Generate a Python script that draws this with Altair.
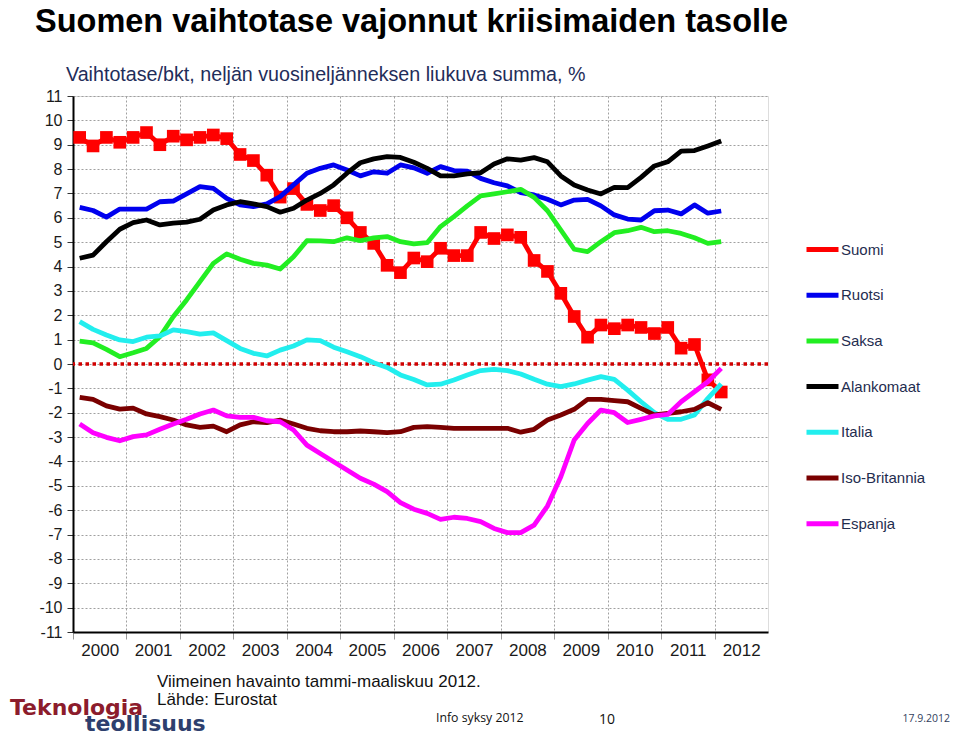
import altair as alt
import pandas as pd

# ---- data (quarterly, 4-quarter rolling sum of current account / GDP, %) ----
years = list(range(2000, 2013))
quarters = [f"{y}Q{q}" for y in range(2000, 2013) for q in (1, 2, 3, 4)][:49]

series_names = ["Suomi", "Ruotsi", "Saksa", "Alankomaat", "Italia", "Iso-Britannia", "Espanja"]
series_colors = ["#FF0000", "#0000EE", "#22EE22", "#000000", "#22EEEE", "#7A0000", "#FF00FF"]

suomi = [9.3, 8.95, 9.3, 9.1, 9.3, 9.5, 9.0, 9.35, 9.2, 9.3, 9.4, 9.25, 8.6, 8.35, 7.75,
         6.85, 7.2, 6.55, 6.3, 6.5, 6.0, 5.4, 4.95, 4.05, 3.75, 4.35, 4.2, 4.75, 4.45, 4.45,
         5.4, 5.15, 5.3, 5.2, 4.25, 3.8, 2.9, 1.95, 1.1, 1.6, 1.45, 1.6, 1.5, 1.25, 1.5,
         0.65, 0.8, -0.65, -1.15]
ruotsi = [6.43, 6.3, 6.03, 6.36, 6.36, 6.36, 6.66, 6.69, 6.98, 7.28, 7.21, 6.8, 6.53, 6.46, 6.57,
          6.87, 7.35, 7.83, 8.03, 8.17, 7.96, 7.72, 7.89, 7.83, 8.17, 8.05, 7.83, 8.1, 7.94, 7.92,
          7.62, 7.44, 7.31, 7.03, 6.94, 6.76, 6.53, 6.73, 6.76, 6.49, 6.12, 5.95, 5.91, 6.29, 6.32,
          6.16, 6.53, 6.19, 6.28]
saksa = [0.94, 0.87, 0.60, 0.30, 0.46, 0.64, 1.12, 1.94, 2.63, 3.38, 4.13, 4.52, 4.3, 4.13, 4.06,
         3.9, 4.4, 5.06, 5.05, 5.02, 5.18, 5.06, 5.18, 5.23, 5.02, 4.93, 4.98, 5.64, 6.05, 6.49,
         6.9, 6.98, 7.07, 7.17, 6.84, 6.29, 5.5, 4.71, 4.61, 5.02, 5.39, 5.47, 5.61, 5.43, 5.47,
         5.36, 5.18, 4.95, 5.02]
alankomaat = [4.34, 4.47, 5.02, 5.53, 5.80, 5.91, 5.71, 5.78, 5.82, 5.94, 6.32, 6.53, 6.66, 6.57, 6.46,
              6.23, 6.39, 6.73, 7.0, 7.35, 7.83, 8.26, 8.42, 8.51, 8.48, 8.28, 8.03, 7.72, 7.72, 7.80,
              7.85, 8.21, 8.42, 8.37, 8.47, 8.3, 7.72, 7.35, 7.14, 6.98, 7.25, 7.24, 7.66, 8.13, 8.3,
              8.74, 8.76, 8.95, 9.15]
italia = [1.74, 1.42, 1.19, 0.99, 0.92, 1.1, 1.15, 1.40, 1.33, 1.23, 1.28, 0.96, 0.64, 0.44, 0.33,
          0.57, 0.74, 0.99, 0.96, 0.69, 0.50, 0.30, 0.05, -0.14, -0.45, -0.64, -0.86, -0.83, -0.66, -0.45,
          -0.27, -0.22, -0.27, -0.41, -0.63, -0.83, -0.93, -0.82, -0.66, -0.52, -0.63, -1.07, -1.55, -2.0, -2.27,
          -2.27, -2.09, -1.41, -0.82]
iso_britannia = [-1.37, -1.45, -1.72, -1.85, -1.81, -2.05, -2.16, -2.3, -2.5, -2.6, -2.55, -2.78, -2.5, -2.37, -2.41,
                 -2.3, -2.46, -2.64, -2.74, -2.78, -2.78, -2.75, -2.78, -2.82, -2.78, -2.6, -2.57, -2.6, -2.64, -2.64,
                 -2.64, -2.64, -2.64, -2.8, -2.68, -2.3, -2.09, -1.86, -1.45, -1.45, -1.5, -1.55, -1.82, -2.09, -2.03,
                 -1.96, -1.86, -1.59, -1.86]
espanja = [-2.46, -2.82, -3.01, -3.15, -2.98, -2.91, -2.68, -2.46, -2.27, -2.05, -1.89, -2.13, -2.19, -2.19, -2.33,
           -2.37, -2.71, -3.33, -3.67, -4.01, -4.35, -4.69, -4.93, -5.24, -5.69, -5.96, -6.13, -6.38, -6.29, -6.34,
           -6.47, -6.75, -6.92, -6.92, -6.61, -5.83, -4.63, -3.12, -2.44, -1.89, -2.0, -2.4, -2.27, -2.13, -2.07,
           -1.55, -1.14, -0.73, -0.18]

y_ticks = list(range(-11, 12))

# ---- long table ----
all_values = [suomi, ruotsi, saksa, alankomaat, italia, iso_britannia, espanja]
rows = []
for order, (name, vals) in enumerate(zip(series_names, all_values)):
    for q, v in zip(quarters, vals):
        yr, qq = int(q[:4]), int(q[-1])
        rows.append({"maa": name, "jarjestys": order, "neljannes": q,
                     "t": yr + (qq - 0.5) / 4, "arvo": v})
df = pd.DataFrame(rows)

W, H = 695, 536
FONT = "Liberation Sans"

x_axis = alt.Axis(values=years, format="d", title=None, labelOffset=26.7,
                  grid=True, gridDash=[2, 2], gridColor="#a0a0a0", gridWidth=1,
                  tickSize=7, tickColor="#999999", domainColor="#000000", domainWidth=2,
                  labelFontSize=17, labelFont=FONT, labelColor="#1a1a1a",
                  labelPadding=3, labelFlush=False, labelBound=False, labelOverlap=False)
y_axis = alt.Axis(values=y_ticks, title=None, grid=True, gridDash=[2, 2],
                  gridColor="#a0a0a0", gridWidth=1, tickSize=6, tickColor="#333333",
                  domainColor="#000000", domainWidth=2, labelFontSize=16,
                  labelFont=FONT, labelColor="#1a1a1a", labelPadding=5,
                  labelOverlap=False, labelExpr="toString(datum.value)")
x_scale = alt.Scale(domain=[2000, 2013], nice=False, zero=False)
y_scale = alt.Scale(domain=[-11, 11], nice=False, zero=False)

x_enc = alt.X("t:Q", scale=x_scale, axis=x_axis)
y_enc = alt.Y("arvo:Q", scale=y_scale, axis=y_axis)

color_enc = alt.Color("maa:N", scale=alt.Scale(domain=series_names, range=series_colors),
                      legend=alt.Legend(title=None, orient="none", legendX=731, legendY=135,
                                        symbolType="stroke", symbolSize=1024, symbolStrokeWidth=5,
                                        labelFontSize=15, labelFont=FONT, labelColor="#1F2D4F",
                                        labelOffset=0, rowPadding=16.7, labelLimit=200))

zero_line = alt.Chart(alt.Data(values=[{"arvo": 0}])).mark_rule(
    color="#D00000", strokeWidth=3.5, strokeDash=[3.5, 3.5]
).encode(y=y_enc)

suomi_pts = alt.Chart(df[df["maa"] == "Suomi"]).mark_square(
    size=160, color="#FF0000", opacity=1
).encode(x=x_enc, y=y_enc)

lines = alt.Chart(df).mark_line(strokeWidth=4.8, strokeJoin="round").encode(
    x=x_enc, y=y_enc, color=color_enc, detail="maa:N",
    order=alt.Order("t:Q")
)


def note(text, x, y, size, color="#000000", font=FONT, weight="normal", align="left",
         baseline="middle"):
    return alt.Chart(alt.Data(values=[{"teksti": text}])).mark_text(
        align=align, baseline=baseline, fontSize=size, font=font, fontWeight=weight, color=color
    ).encode(text="teksti:N", x=alt.value(x), y=alt.value(y))


# positions relative to plot origin (page x 73, page y 96)
notes = [
    note("Suomen vaihtotase vajonnut kriisimaiden tasolle", -38, -64, 32.5, "#000000", FONT, "bold",
         baseline="alphabetic"),
    note("Vaihtotase/bkt, neljän vuosineljänneksen liukuva summa, %", -7, -21, 19.7, "#1F2D5A"),
    note("Viimeinen havainto tammi-maaliskuu 2012.", 84, 586, 17, "#111111"),
    note("Lähde: Eurostat", 84, 604, 17, "#111111"),
    note("Info syksy 2012", 363, 622, 12.3, "#111111", "Open Sans"),
    note("10", 526, 624, 14, "#111111", "Open Sans"),
    note("17.9.2012", 877, 623, 10.5, "#33415C", "Open Sans", align="right"),
    note("Teknologia", -63, 619, 22, "#8C1C2C", "DejaVu Sans", "bold", baseline="alphabetic"),
    note("teollisuus", 12, 635, 22, "#2E3F6E", "DejaVu Sans", "bold", baseline="alphabetic"),
]

chart = alt.layer(zero_line, suomi_pts, lines, *notes).properties(
    width=W, height=H,
    padding={"left": 65, "top": 88, "right": 183, "bottom": 102},
    autosize=alt.AutoSizeParams(type="none"),
).configure_view(stroke="#000000", strokeWidth=1.5).configure(background="white")

chart.save("out.html", embed_options={"renderer": "svg", "actions": False})
